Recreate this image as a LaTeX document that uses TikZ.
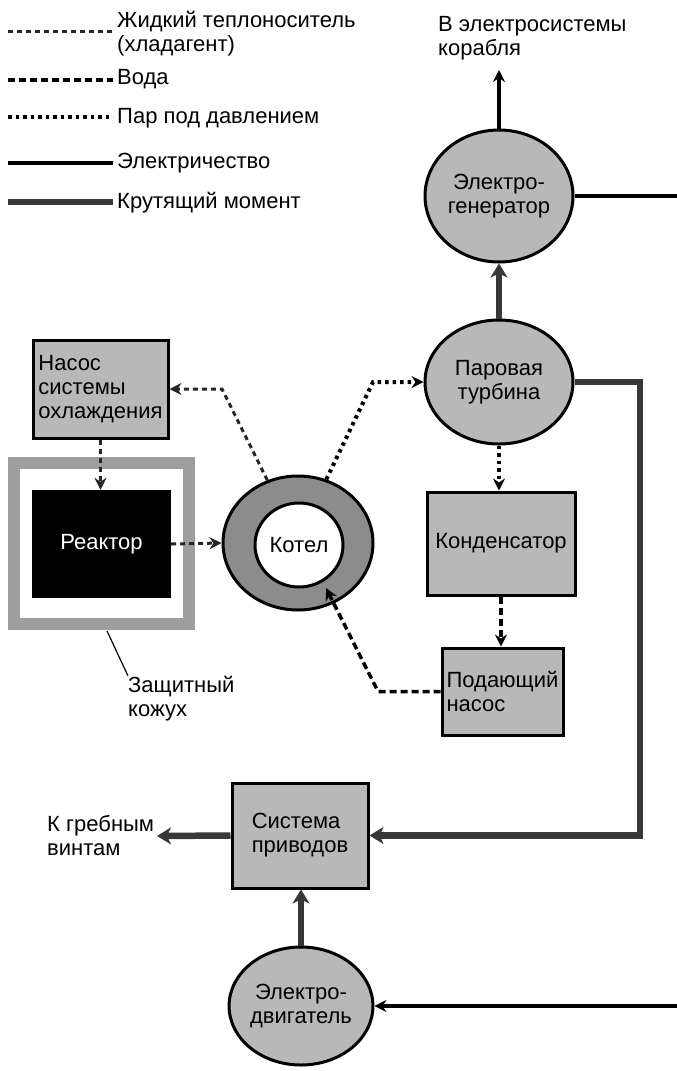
\documentclass[tikz,border=0pt]{standalone}
\usepackage{fontspec}
\setmainfont{Liberation Sans}
\usetikzlibrary{shapes.geometric,arrows.meta}
\begin{document}
\begin{tikzpicture}[x=1pt,y=-1pt,
 every node/.style={font=\fontsize{22}{24}\selectfont},
 box/.style={draw, line width=3pt, fill=black!28, rectangle, inner sep=0pt, align=left},
 oval/.style={draw, line width=3pt, fill=black!28, ellipse, inner sep=0pt, align=center},
 lbl/.style={inner sep=0pt, anchor=west, align=left},
 cool/.style={line width=3pt, draw=black!85, dash pattern=on 5pt off 4pt},
 water/.style={line width=3.5pt, dash pattern=on 7pt off 4pt},
 steam/.style={line width=4pt, dash pattern=on 3.5pt off 4pt},
 elec/.style={line width=3.2pt},
 torque/.style={line width=6.5pt, draw=black!78},
 tip/.style={-{Stealth[length=12pt,width=12pt,inset=4pt]}},
 bigtip/.style={-{Stealth[length=14pt,width=17pt,inset=4pt]}},
]
\useasboundingbox (0,0) rectangle (677,1071);

% legend
\coordinate (l1a) at (8,31);  \coordinate (l1b) at (113,31);
\coordinate (l2a) at (8,80);  \coordinate (l2b) at (113,80);
\coordinate (l3a) at (8,117); \coordinate (l3b) at (113,117);
\coordinate (l4a) at (8,163); \coordinate (l4b) at (113,163);
\coordinate (l5a) at (8,202); \coordinate (l5b) at (113,202);
\draw[cool] (l1a) -- (l1b);
\draw[water] (l2a) -- (l2b);
\draw[steam] (l3a) -- (l3b);
\draw[elec] (l4a) -- (l4b);
\draw[torque] (l5a) -- (l5b);
\node[lbl] (t1) at (117,33.5) {Жидкий теплоноситель\\(хладагент)};
\node[lbl] (t2) at (117,79) {Вода};
\node[lbl] (t3) at (117,118) {Пар под давлением};
\node[lbl] (t4) at (117,163) {Электричество};
\node[lbl] (t5) at (117,203) {Крутящий момент};

% top label
\node[lbl] (ship) at (438,38.5) {В электросистемы\\корабля};
\coordinate (elecout) at (499,70);

% generator & turbine
\node[oval, minimum width=148pt, minimum height=132pt] (gen) at (499,196) {Электро-\\генератор};
\node[oval, minimum width=148pt, minimum height=124pt] (turb) at (499,382) {Паровая\\турбина};
\coordinate (genout) at (677,196);

% condenser & feed pump
\node[box, minimum width=148pt, minimum height=103pt] (cond) at (501,543.5) {Конденсатор};
\node[box, minimum width=121pt, minimum height=87pt] (feed) at (502.5,691.5) {Подающий\\насос};

% cooling pump
\node[box, minimum width=135pt, minimum height=98pt] (pump) at (100.5,389) {Насос\\системы\\охлаждения};

% shield and reactor
\node[draw=black!38, line width=12pt, rectangle, minimum width=175pt, minimum height=161pt, inner sep=0pt] (shield) at (101.5,543.5) {};
\node[rectangle, fill=black, text=white, minimum width=139pt, minimum height=108pt, inner sep=0pt] (reactor) at (101.5,544) {Реактор};
\coordinate (s1) at (107,631);
\node[lbl] (kozh) at (128,698.5) {Защитный\\кожух};
\draw[line width=1.2pt] (s1) -- (kozh.north west);

% boiler
\node[ellipse, draw, line width=3pt, fill=black!45, minimum width=150pt, minimum height=134pt, inner sep=0pt] (boiler) at (298,543) {};
\node[ellipse, draw, line width=3pt, fill=white, minimum width=88pt, minimum height=84pt, inner sep=0pt] (boilin) at (299,545) {Котел};

% drive system & motor
\node[box, minimum width=136pt, minimum height=105pt] (drive) at (300,835.5) {Система\\приводов};
\node[oval, minimum width=122pt, minimum height=118pt] (motor) at (301,1006) {Электро-\\двигатель};
\node[lbl] (prop) at (47,836) {К гребным\\винтам};
\coordinate (propout) at (157,836);
\coordinate (motin) at (677,1006);

% corner coordinates
\coordinate (c1) at (222,389);
\coordinate (c2) at (373,382);
\coordinate (c3) at (378,691.5);
\coordinate (bw) at (326,588);
\coordinate (tq1) at (640,382);
\coordinate (tq2) at (640,835.5);

% connectors
\draw[elec,tip] (gen.north) -- (elecout);
\draw[elec] (gen.east) -- (genout);
\draw[torque,bigtip] (turb.north) -- (gen.south);
\draw[steam,tip] (turb.south) -- (turb.south |- cond.north);
\draw[water,tip] (cond.south) -- (cond.south |- feed.north);
\draw[water,tip] (feed.west) -- (c3) -- (bw);
\draw[cool,tip] (boiler.116) -- (c1) -- (pump.east);
\draw[steam,tip] (boiler.66) -- (c2) -- (turb.west);
\draw[cool,tip] (pump.south) -- (pump.south |- reactor.north);
\draw[cool,tip] (reactor.east) -- (boiler.west);
\draw[torque,bigtip] (turb.east) -- (tq1) -- (tq2) -- (drive.east);
\draw[torque,bigtip] (drive.west) -- (propout);
\draw[torque,bigtip] (motor.north) -- (motor.north |- drive.south);
\draw[elec,tip] (motin) -- (motor.east);
\end{tikzpicture}
\end{document}
